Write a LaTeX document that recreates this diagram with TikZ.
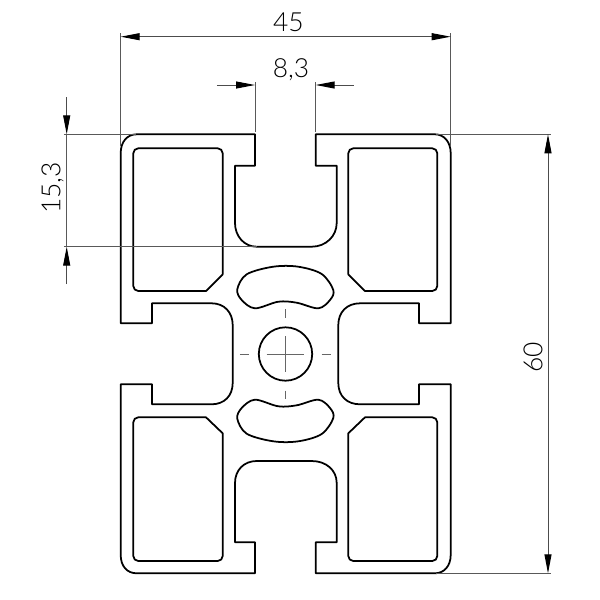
\documentclass[tikz,border=0pt]{standalone}
\usepackage{fontspec}
\setmainfont{Lato Light}
\usetikzlibrary{arrows.meta}
\tikzset{
  profile/.style={line width=1pt,black,line join=round},
  thin line/.style={line width=0.5pt,black!65},
  center line/.style={line width=0.55pt,black!60},
  dim/.style={line width=0.55pt,black!70,{Triangle[length=0.38cm,width=0.14cm,black]}-{Triangle[length=0.38cm,width=0.14cm,black]}},
  dimone/.style={line width=0.55pt,black!70,-{Triangle[length=0.38cm,width=0.14cm,black]}},
  dimtext/.style={font=\fontsize{15}{16}\selectfont,inner sep=0pt,text=black}
}
\begin{document}
\begin{tikzpicture}[x=0.02cm,y=-0.02cm]
\useasboundingbox[fill=white] (0,0) rectangle (600,600);
% outer profile
\draw[profile]
 (136.7,134.3) -- (255,134.3) -- (255,165.7) -- (235,165.7) -- (235,223)
 .. controls (235,236) and (244,246.7) .. (256.7,246.7) -- (311.7,246.7)
 .. controls (326,246.7) and (336.7,236) .. (336.7,223)
 -- (336.7,165.7) -- (315.7,165.7) -- (315.7,134.3) -- (435,134.3)
 .. controls (444,134.3) and (450.7,142) .. (450.7,153)
 -- (450.7,323.3) -- (419,323.3) -- (419,303.3) -- (360,303.3)
 .. controls (347,303.3) and (338.3,312) .. (338.3,325)
 -- (338.3,383) .. controls (338.3,396) and (347,404.3) .. (360,404.3)
 -- (419,404.3) -- (419,384.3) -- (450.7,384.3) -- (450.7,555)
 .. controls (450.7,566) and (444,573.3) .. (435,573.3)
 -- (315.7,573.3) -- (315.7,542.3) -- (336.7,542.3) -- (336.7,483)
 .. controls (336.7,470) and (326,461) .. (311.7,461)
 -- (256.7,461) .. controls (244,461) and (235,470) .. (235,483)
 -- (235,542.3) -- (255,542.3) -- (255,573.3) -- (136.7,573.3)
 .. controls (127,573.3) and (120.7,566) .. (120.7,555)
 -- (120.7,384.3) -- (152,384.3) -- (152,404.3) -- (211.7,404.3)
 .. controls (224,404.3) and (232.7,396) .. (232.7,383)
 -- (232.7,325) .. controls (232.7,312) and (224,303.3) .. (211.7,303.3)
 -- (152,303.3) -- (152,323.3) -- (120.7,323.3) -- (120.7,153)
 .. controls (120.7,142) and (127,134.3) .. (136.7,134.3) -- cycle;
% pockets
\draw[profile] (138.3,148.3) -- (217.7,148.3) arc[start angle=90,end angle=0,radius=5,y radius=-5] -- (222.7,274.3) -- (206,291) -- (138.3,291) arc[start angle=270,end angle=180,radius=5,y radius=-5] -- (133.3,153.3) arc[start angle=180,end angle=90,radius=5,y radius=-5] -- cycle;
\draw[profile] (353.3,148.3) -- (432.3,148.3) arc[start angle=90,end angle=0,radius=5,y radius=-5] -- (437.3,286) arc[start angle=0,end angle=-90,radius=5,y radius=-5] -- (365,291) -- (348.3,274.3) -- (348.3,153.3) arc[start angle=180,end angle=90,radius=5,y radius=-5] -- cycle;
\draw[profile] (138.3,417.3) -- (206,417.3) -- (222.7,433.3) -- (222.7,556) arc[start angle=0,end angle=-90,radius=5,y radius=-5] -- (138.3,561) arc[start angle=270,end angle=180,radius=5,y radius=-5] -- (133.3,422.3) arc[start angle=180,end angle=90,radius=5,y radius=-5] -- cycle;
\draw[profile] (365,417.3) -- (432.3,417.3) arc[start angle=90,end angle=0,radius=5,y radius=-5] -- (437.3,556) arc[start angle=0,end angle=-90,radius=5,y radius=-5] -- (353.3,561) arc[start angle=270,end angle=180,radius=5,y radius=-5] -- (348.3,433.3) -- cycle;
% ovals
\draw[profile] plot[smooth cycle,tension=0.55] coordinates {(273.3,266.7) (298.3,266.7) (321.7,274) (333.3,290) (330,300) (318.3,308.3) (296.7,302.7) (278.3,301.7) (255,308.3) (241.7,300) (237.3,289.3) (246.7,274.3)};
\draw[profile] plot[smooth cycle,tension=0.55] coordinates {(273.3,441.3) (298.3,441.3) (321.7,434) (333.3,418) (330,408) (318.3,399.7) (296.7,405.3) (278.3,406.3) (255,399.7) (241.7,408) (237.3,418.7) (246.7,433.7)};
% centre hole
\node[circle,draw,line width=1pt,minimum size=1.068cm,inner sep=0pt] (hole) at (285.5,354) {};
\draw[center line] (240,354) -- (249.3,354) (266.7,354) -- (304,354) (321.7,354) -- (330.7,354);
\draw[center line] (285.5,309) -- (285.5,317.7) (285.5,336) -- (285.5,372.3) (285.5,390.7) -- (285.5,399.3);
% extension lines
\draw[thin line] (120.7,33) -- (120.7,146) (450.7,33) -- (450.7,146);
\draw[thin line] (255,82) -- (255,132) (315.7,82) -- (315.7,132);
\draw[thin line] (64,134.3) -- (136,134.3) (64,246.7) -- (257,246.7);
\draw[thin line] (436,134.3) -- (551,134.3) (436,573.3) -- (551,573.3);
% dimensions
\coordinate (a1) at (120.7,36.7); \coordinate (a2) at (450.7,36.7);
\draw[dim] (a1) -- (a2);
\node[dimtext] (t45) at (288.3,22.7) {45};
\coordinate (b0) at (217,85); \coordinate (b1) at (255,85); \coordinate (b2) at (315.7,85); \coordinate (b3) at (354,85);
\draw[dimone] (b0) -- (b1);
\draw[dimone] (b3) -- (b2);
\node[dimtext] (t83) at (291,69.5) {8,3};
\coordinate (c0) at (66.7,97); \coordinate (c1) at (66.7,134.3); \coordinate (c2) at (66.7,246.7); \coordinate (c3) at (66.7,284);
\draw[dimone] (c0) -- (c1);
\draw[dimone] (c3) -- (c2);
\draw[thin line] (c1) -- (c2);
\node[dimtext,rotate=90] (t153) at (52.5,188) {15,3};
\coordinate (d1) at (548,134.3); \coordinate (d2) at (548,573.3);
\draw[dim] (d1) -- (d2);
\node[dimtext,rotate=90] (t60) at (533,357) {60};
\end{tikzpicture}
\end{document}
